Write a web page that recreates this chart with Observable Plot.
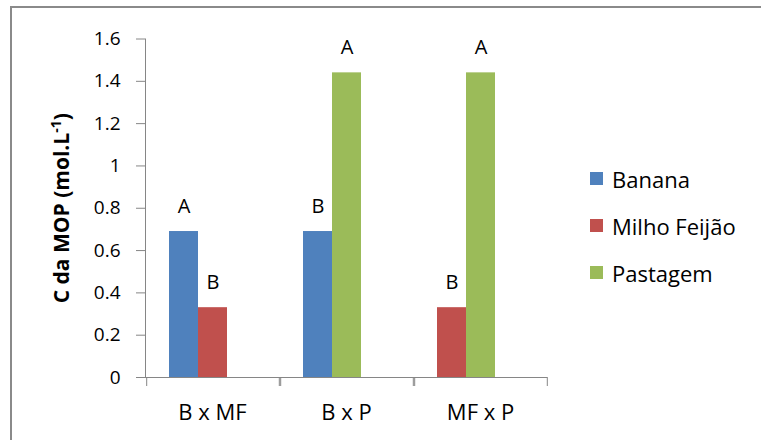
<!DOCTYPE html>
<html>
<head>
<meta charset="utf-8">
<script src="https://cdn.jsdelivr.net/npm/d3@7"></script>
<script src="https://cdn.jsdelivr.net/npm/@observablehq/plot@0.6"></script>
<style>
  html, body { margin: 0; padding: 0; background: #fff; }
  #chart { position: relative; width: 761px; height: 440px; overflow: hidden; background: #fff; }
  #border { position: absolute; left: 10px; top: 6px; width: 900px; height: 600px; border: 2px solid #8a8a8a; box-sizing: border-box; }
  #chart > svg { position: absolute; left: 0; top: 0; }
  #chart > svg text { fill: #000; }
  #chart [aria-label^="fx-axis"] text { font-size: 22px; }
  #legend { position: absolute; left: 590px; top: 155px; }
  #legend > * { font-family: "Open Sans", sans-serif !important; font-size: 22px !important; margin: 0 !important; color: #000; }
  #legend [class$="-swatch"] { height: 47px; display: flex; align-items: center; padding: 0 !important; margin: 0 !important; }
  #legend [class$="-swatch"] > svg { margin-right: 9px !important; flex-shrink: 0; }
</style>
</head>
<body>
<div id="chart"><div id="border"></div></div>
<script>
// ---- data ----
const comparisons = ["B x MF", "B x P", "MF x P"];
const series = ["Banana", "Milho Feijão", "Pastagem"];
const seriesColors = ["#4F81BD", "#C0504D", "#9BBB59"];
const firstSeries = ["Banana", "Banana", "Milho Feijão"];
const firstValues = [0.69, 0.69, 0.33];
const firstLetters = ["A", "B", "B"];
const secondSeries = ["Milho Feijão", "Pastagem", "Pastagem"];
const secondValues = [0.33, 1.44, 1.44];
const secondLetters = ["B", "A", "A"];
const slots = ["1", "2", "3"];
const yTicks = [0, 0.2, 0.4, 0.6, 0.8, 1, 1.2, 1.4, 1.6];
const yTitle = "C da MOP (mol.L-1)";

const rows = [];
comparisons.forEach((c, i) => {
  rows.push({comparison: c, slot: slots[0], species: firstSeries[i], value: firstValues[i], letter: firstLetters[i]});
  rows.push({comparison: c, slot: slots[1], species: secondSeries[i], value: secondValues[i], letter: secondLetters[i]});
});

const edges = [{slot: slots[0], side: -1}, {slot: slots[2], side: 1}];

const svg = Plot.plot({
  width: 761,
  height: 440,
  marginLeft: 144,
  marginRight: 213,
  marginTop: 38.5,
  marginBottom: 63,
  style: {fontFamily: "Open Sans, sans-serif", fontSize: "19px", color: "#868686", background: "transparent", overflow: "visible"},
  facet: {data: rows, x: "comparison"},
  fx: {domain: comparisons, padding: 0, axis: "bottom", tickSize: 0, tickPadding: 27, label: null},
  x: {domain: slots, paddingInner: 0, paddingOuter: 0.74, axis: null},
  y: {domain: [0, 1.6], ticks: yTicks, tickFormat: d => String(d), tickSize: 9, tickPadding: 16,
      line: true, label: yTitle, labelAnchor: "center", labelOffset: 91},
  color: {domain: series, range: seriesColors},
  marks: [
    Plot.barY(rows, {x: "slot", y: "value", fill: "species"}),
    Plot.text(rows, {x: "slot", y: "value", text: "letter", dy: -19, lineAnchor: "bottom", fontSize: 20, fill: "#000"}),
    Plot.ruleY([0], {stroke: "#868686"}),
    Plot.ruleX(edges.filter(d => d.side < 0), {x: "slot", y1: 0, y2: 0, insetBottom: -9, dx: -37.3, stroke: "#868686"}),
    Plot.ruleX(edges.filter(d => d.side > 0), {x: "slot", y1: 0, y2: 0, insetBottom: -9, dx: 37.3, stroke: "#868686"})
  ]
});

// y title: bold with superscript
svg.querySelectorAll("text").forEach(t => {
  if (t.textContent.includes("C da MOP")) {
    t.textContent = "";
    t.setAttribute("font-weight", "bold");
    t.style.fontWeight = "bold";
    t.style.fontSize = "21px";
    const ns = "http://www.w3.org/2000/svg";
    const a = document.createElementNS(ns, "tspan"); a.textContent = "C da MOP (mol.L";
    const b = document.createElementNS(ns, "tspan"); b.textContent = "-1"; b.setAttribute("dy", "-8"); b.setAttribute("font-size", "14px");
    const c = document.createElementNS(ns, "tspan"); c.textContent = ")"; c.setAttribute("dy", "8");
    t.append(a, b, c);
  }
});

const chart = document.getElementById("chart");
chart.appendChild(svg);

const legend = Plot.legend({color: {domain: series, range: seriesColors}, columns: 1, swatchSize: 13});
const lg = document.createElement("div");
lg.id = "legend";
lg.appendChild(legend);
chart.appendChild(lg);
</script>
</body>
</html>
